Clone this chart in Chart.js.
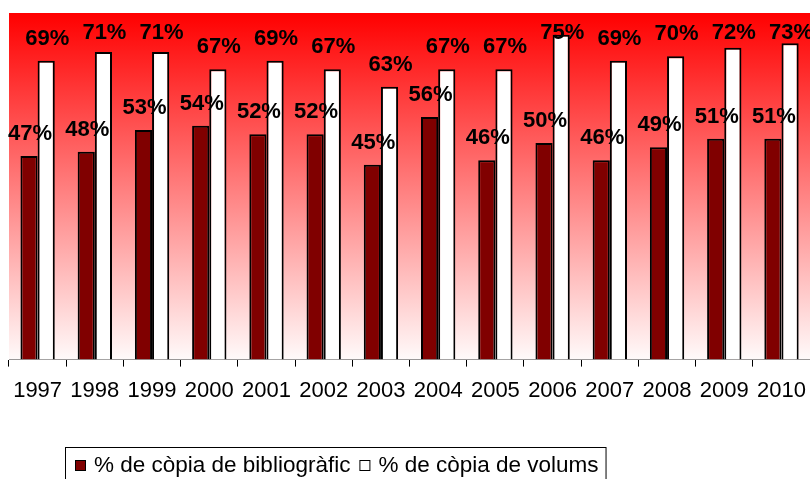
<!DOCTYPE html>
<html>
<head>
<meta charset="utf-8">
<script src="https://cdn.jsdelivr.net/npm/chart.js@4.4.0/dist/chart.umd.min.js"></script>
<style>
  body { margin: 0; overflow: hidden; background: #fff; }
</style>
</head>
<body>
<canvas id="bar-chart" width="817" height="479"></canvas>
<script>
var years = ["1997","1998","1999","2000","2001","2002","2003","2004","2005","2006","2007","2008","2009","2010"];
var biblio = [47,48,53,54,52,52,45,56,46,50,46,49,51,51];
var volums = [69,71,71,67,69,67,63,67,67,75,69,70,72,73];
var seriesNames = ["% de còpia de bibliogràfic", "% de còpia de volums"];

// red -> white fill behind the bars
var bgGradient = {
  id: 'bgGradient',
  beforeDatasetsDraw: function(chart) {
    var a = chart.chartArea, ctx = chart.ctx;
    var g = ctx.createLinearGradient(0, a.top, 0, a.bottom);
    g.addColorStop(0, '#ff0000');
    g.addColorStop(1, '#fffafa');
    ctx.save();
    ctx.fillStyle = g;
    ctx.fillRect(a.left, a.top, a.right - a.left, a.bottom - a.top);
    ctx.restore();
  }
};

// percent labels over the bars (kept inside the top of the plot)
var barLabels = {
  id: 'barLabels',
  afterDatasetsDraw: function(chart) {
    var ctx = chart.ctx;
    ctx.save();
    ctx.font = 'bold 22px "Liberation Sans", Arial, sans-serif';
    ctx.fillStyle = '#000';
    ctx.textAlign = 'center';
    ctx.textBaseline = 'alphabetic';
    chart.data.datasets.forEach(function(ds, i) {
      chart.getDatasetMeta(i).data.forEach(function(bar, j) {
        var y = Math.max(bar.y - 16, chart.chartArea.top + 26);
        ctx.fillText(ds.data[j] + '%', bar.x + 1, y);
      });
    });
    ctx.restore();
  }
};

// boxed legend, placed like the original
var boxLegend = {
  id: 'boxLegend',
  afterDraw: function(chart) {
    var ctx = chart.ctx;
    ctx.save();
    ctx.font = '22.5px "Liberation Sans", Arial, sans-serif';
    ctx.textBaseline = 'middle';
    var x = 75, y = 466;
    ctx.strokeStyle = '#000';
    ctx.lineWidth = 1;
    var w0 = ctx.measureText(seriesNames[0]).width;
    var w1 = ctx.measureText(seriesNames[1]).width;
    var right = x + 19 + w0 + 9 + 19 + w1 + 7;
    ctx.strokeRect(65.5, 447.5, right - 65, 40);
    chart.data.datasets.forEach(function(ds, i) {
      ctx.fillStyle = ds.backgroundColor;
      ctx.fillRect(x, y - 6, 11, 11);
      ctx.strokeRect(x + 0.5, y - 5.5, 10, 10);
      ctx.fillStyle = '#000';
      ctx.fillText(ds.label, x + 19, y);
      x += 19 + ctx.measureText(ds.label).width + 9;
    });
    ctx.restore();
  }
};

new Chart(document.getElementById("bar-chart"), {
  type: 'bar',
  data: {
    labels: years,
    datasets: [{
        data: biblio,
        label: seriesNames[0],
        backgroundColor: "#800000",
        borderColor: "#000",
        borderWidth: 2
      }, {
        data: volums,
        label: seriesNames[1],
        backgroundColor: "#ffffff",
        borderColor: "#000",
        borderWidth: 2
      }
    ]
  },
  options: {
    responsive: false,
    animation: false,
    categoryPercentage: 0.6,
    barPercentage: 1,
    layout: { padding: { left: 9, right: 1, top: 13, bottom: 64 } },
    plugins: {
      legend: { display: false },
      tooltip: { enabled: false }
    },
    scales: {
      y: { display: false, min: 0, max: 80 },
      x: {
        grid: { drawOnChartArea: false, drawTicks: true, tickLength: 7, color: '#000', offset: true },
        border: { display: true, color: '#000', width: 1 },
        ticks: {
          color: '#000',
          padding: 11,
          maxRotation: 0,
          autoSkip: false,
          font: { family: '"Liberation Sans", Arial, sans-serif', size: 22 }
        }
      }
    }
  },
  plugins: [bgGradient, barLabels, boxLegend]
});
</script>
</body>
</html>
